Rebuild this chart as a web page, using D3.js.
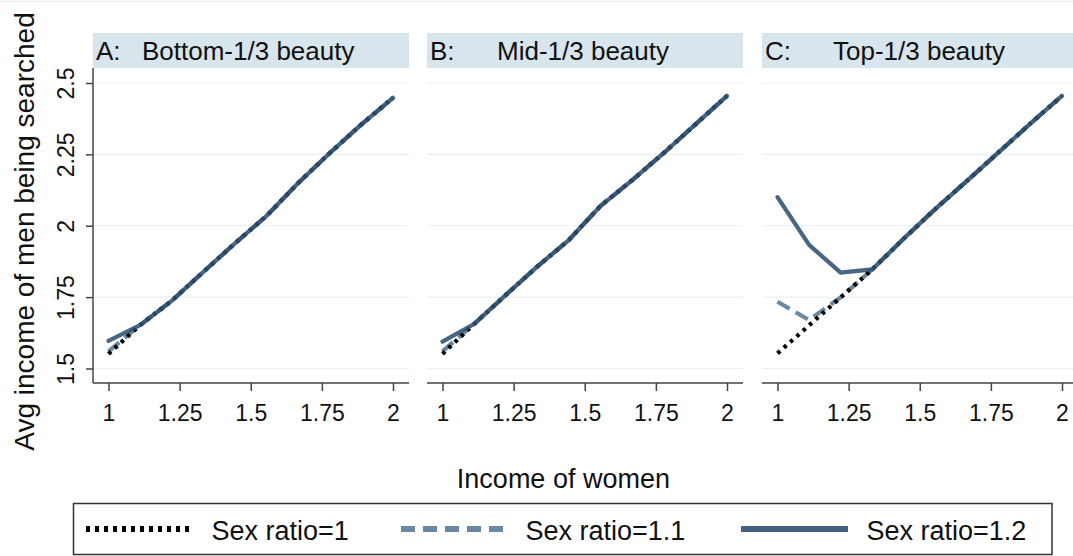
<!DOCTYPE html>
<html>
<head>
<meta charset="utf-8">
<script src="https://cdn.jsdelivr.net/npm/d3@7"></script>
<style>
  html, body { margin: 0; padding: 0; background: #fff; }
  svg { display: block; }
  text { font-family: "Liberation Sans", Arial, sans-serif; fill: #111; }
</style>
</head>
<body>
<svg id="chart" width="1073" height="556"></svg>
<script>
// ---- data ----
const incomes = [1, 1.111, 1.222, 1.333, 1.444, 1.556, 1.667, 1.778, 1.889, 2];
const panelLetters = ["A:", "B:", "C:"];
const panelTitles = ["Bottom-1/3 beauty", "Mid-1/3 beauty", "Top-1/3 beauty"];
const seriesNames = ["Sex ratio=1", "Sex ratio=1.1", "Sex ratio=1.2"];
const xTicks = [1, 1.25, 1.5, 1.75, 2];
const yTicks = [1.5, 1.75, 2, 2.25, 2.5];
const xTitle = "Income of women";
const yTitle = "Avg income of men being searched";

// Panel A (bottom-1/3 beauty)
const aRatio1  = [1.551, 1.652, 1.737, 1.838, 1.938, 2.035, 2.150, 2.255, 2.355, 2.448];
const aRatio11 = [1.560, 1.652, 1.737, 1.838, 1.938, 2.035, 2.150, 2.255, 2.355, 2.448];
const aRatio12 = [1.597, 1.652, 1.737, 1.838, 1.938, 2.035, 2.150, 2.255, 2.355, 2.448];
// Panel B (mid-1/3 beauty)
const bRatio1  = [1.551, 1.656, 1.757, 1.857, 1.950, 2.070, 2.160, 2.255, 2.355, 2.455];
const bRatio11 = [1.560, 1.656, 1.757, 1.857, 1.950, 2.070, 2.160, 2.255, 2.355, 2.455];
const bRatio12 = [1.594, 1.656, 1.757, 1.857, 1.950, 2.070, 2.160, 2.255, 2.355, 2.455];
// Panel C (top-1/3 beauty)
const cRatio1  = [1.553, 1.651, 1.749, 1.847, 1.955, 2.060, 2.158, 2.258, 2.358, 2.455];
const cRatio11 = [1.734, 1.670, 1.749, 1.847, 1.955, 2.060, 2.158, 2.258, 2.358, 2.455];
const cRatio12 = [2.100, 1.933, 1.836, 1.847, 1.955, 2.060, 2.158, 2.258, 2.358, 2.455];

const panelSeries = [
  [aRatio1, aRatio11, aRatio12],
  [bRatio1, bRatio11, bRatio12],
  [cRatio1, cRatio11, cRatio12]
];

// ---- styles ----
const styles = [
  { color: "#000000", width: 4.2, dash: "3.5,5", opacity: 1, legendDash: "4,5" },
  { color: "#6a88a2", width: 4.2, dash: "14,7", opacity: 1, legendDash: "14,8" },
  { color: "#2f5072", width: 4.2, dash: null, opacity: 0.88, legendDash: null }
];
const drawOrder = [1, 0, 2];

const svg = d3.select("#chart");
svg.append("line").attr("x1", 0).attr("x2", 1073).attr("y1", 1.5).attr("y2", 1.5)
  .attr("stroke", "#eeeeee").attr("stroke-width", 1.5);

const panelLefts = [93, 427, 762];
const panelW = 316;
const plotTop = 68, plotBottom = 383;
const headerTop = 33;

panelLefts.forEach((pl, i) => {
  const x = d3.scaleLinear().domain([1, 2]).range([pl + 15.5, pl + 300]);
  const y = d3.scaleLinear().domain([1.5, 2.5]).range([368.5, 83]);
  const g = svg.append("g");

  // header band
  g.append("rect").attr("x", pl).attr("y", headerTop).attr("width", panelW)
    .attr("height", plotTop - headerTop).attr("fill", "#d9e5ec");
  g.append("text").attr("x", pl + 3).attr("y", 60).attr("font-size", 26).text(panelLetters[i]);
  const titleOffsets = [49, 70, 71];
  g.append("text").attr("x", pl + titleOffsets[i]).attr("y", 60).attr("font-size", 26).text(panelTitles[i]);

  // gridlines
  g.selectAll(".grid").data(yTicks).enter().append("line")
    .attr("x1", pl).attr("x2", pl + panelW)
    .attr("y1", d => y(d)).attr("y2", d => y(d))
    .attr("stroke", "#e7eff3").attr("stroke-width", 1.2);

  // x axis
  const xAxis = d3.axisBottom(x).tickValues(xTicks).tickSize(8).tickPadding(4)
    .tickFormat(d => d3.format("")(d));
  const xa = g.append("g").attr("transform", `translate(0,${plotBottom})`).call(xAxis);
  xa.select(".domain").remove();
  xa.append("line").attr("x1", pl).attr("x2", pl + panelW).attr("y1", 0).attr("y2", 0)
    .attr("stroke", "#444").attr("stroke-width", 1.5);
  xa.selectAll(".tick line").attr("stroke", "#444").attr("stroke-width", 1.5);
  xa.selectAll(".tick text").attr("font-size", 23).attr("font-family", "Liberation Sans, Arial, sans-serif")
    .attr("fill", "#111").attr("dy", "0").attr("y", 37.5);

  // y axis (only first panel)
  if (i === 0) {
    const yAxis = d3.axisLeft(y).tickValues(yTicks).tickSize(7).tickFormat(d => d3.format("")(d));
    const ya = g.append("g").attr("transform", `translate(${pl},0)`).call(yAxis);
    ya.select(".domain").remove();
    ya.append("line").attr("x1", 0).attr("x2", 0).attr("y1", plotTop).attr("y2", plotBottom)
      .attr("stroke", "#444").attr("stroke-width", 1.5);
    ya.selectAll(".tick line").attr("stroke", "#444").attr("stroke-width", 1.5);
    ya.selectAll(".tick text").attr("font-size", 23).attr("font-family", "Liberation Sans, Arial, sans-serif")
      .attr("fill", "#111")
      .attr("x", null).attr("dy", null)
      .attr("text-anchor", "middle")
      .attr("transform", "translate(-19,0) rotate(-90)");
  }

  // lines
  const clipId = "clip" + i;
  svg.append("clipPath").attr("id", clipId).append("rect")
    .attr("x", pl).attr("y", plotTop).attr("width", panelW).attr("height", plotBottom - plotTop);
  const lineGen = d3.line().x(d => x(d[0])).y(d => y(d[1]));
  drawOrder.forEach(s => {
    const st = styles[s];
    const pts = incomes.map((v, k) => [v, panelSeries[i][s][k]]);
    g.append("path").attr("d", lineGen(pts))
      .attr("clip-path", `url(#${clipId})`)
      .attr("fill", "none").attr("stroke", st.color).attr("stroke-width", st.width)
      .attr("stroke-opacity", st.opacity)
      .attr("stroke-linejoin", "round")
      .attr("stroke-linecap", st.dash ? "butt" : "round")
      .attr("stroke-dasharray", st.dash);
  });
});

// axis titles
svg.append("text").attr("transform", "translate(34,231.5) rotate(-90)")
  .attr("text-anchor", "middle").attr("font-size", 28).text(yTitle);
svg.append("text").attr("x", 563.4).attr("y", 488)
  .attr("text-anchor", "middle").attr("font-size", 27).text(xTitle);

// legend
const lg = svg.append("g");
lg.append("rect").attr("x", 73.5).attr("y", 503.5).attr("width", 978.5).attr("height", 51)
  .attr("fill", "#fff").attr("stroke", "#333").attr("stroke-width", 1.5);
const legendX = [86, 401, 741];
const legendTextX = [211.5, 525.5, 866.5];
seriesNames.forEach((name, s) => {
  const st = styles[s];
  lg.append("line").attr("x1", legendX[s]).attr("x2", legendX[s] + 107)
    .attr("y1", 529).attr("y2", 529)
    .attr("stroke", st.color).attr("stroke-width", 6)
    .attr("stroke-opacity", s === 2 ? 0.9 : 1)
    .attr("stroke-dasharray", st.legendDash);
  lg.append("text").attr("x", legendTextX[s]).attr("y", 539.5).attr("font-size", 27).text(name);
});
</script>
</body>
</html>
